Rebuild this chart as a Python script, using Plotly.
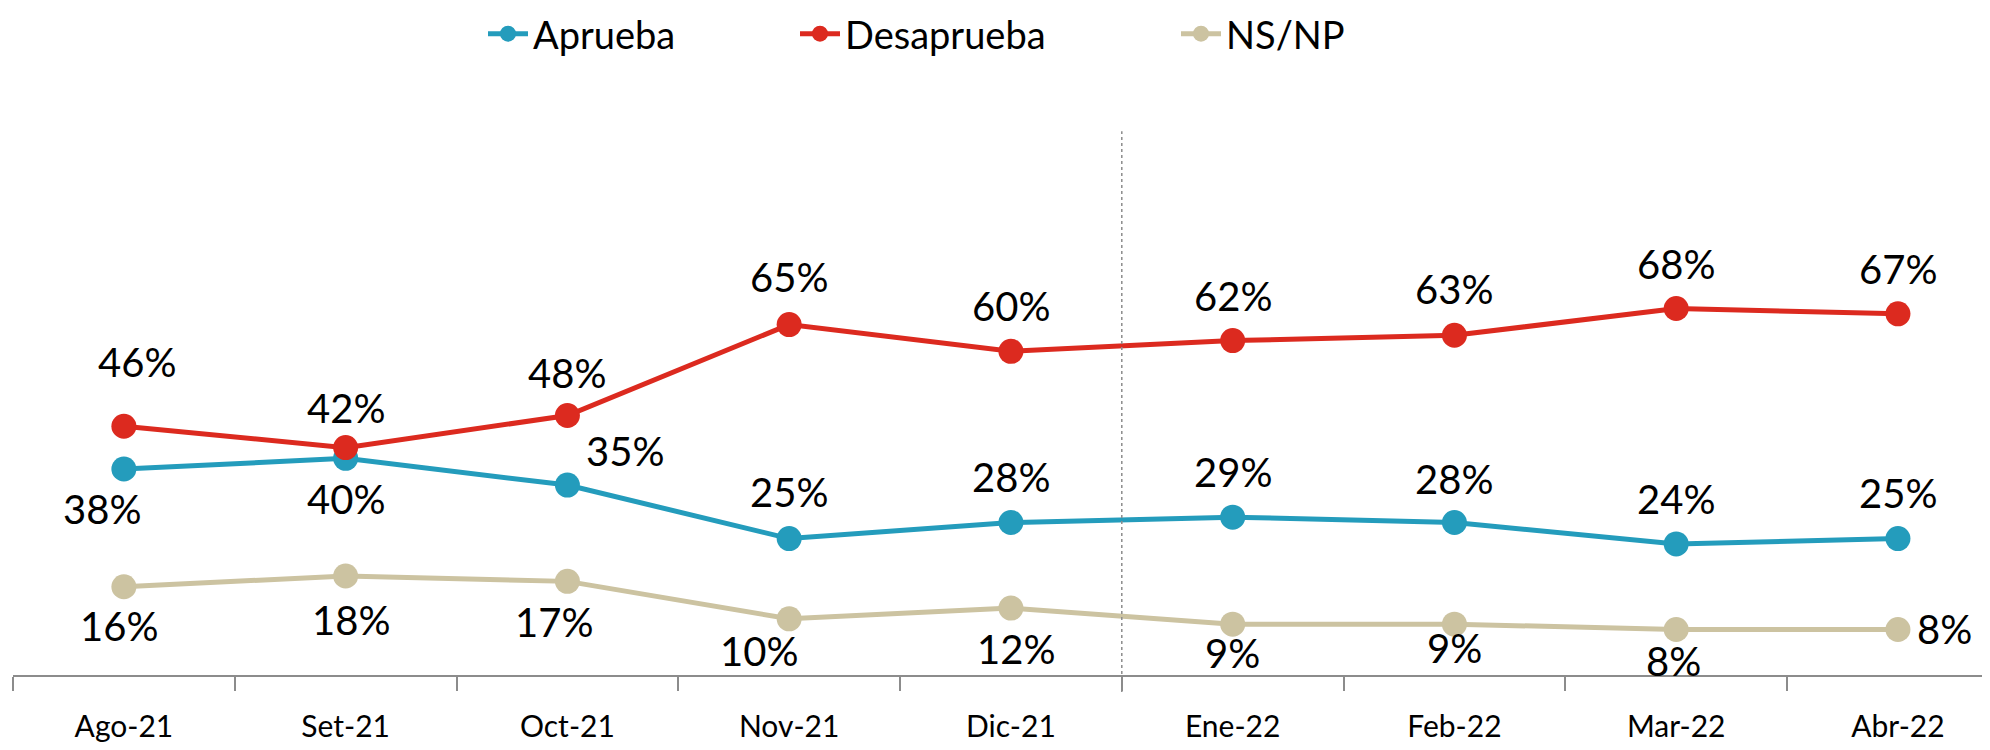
import plotly.graph_objects as go

categories = ["Ago-21", "Set-21", "Oct-21", "Nov-21", "Dic-21", "Ene-22", "Feb-22", "Mar-22", "Abr-22"]
aprueba = [38, 40, 35, 25, 28, 29, 28, 24, 25]
desaprueba = [46, 42, 48, 65, 60, 62, 63, 68, 67]
nsnp = [16, 18, 17, 10, 12, 9, 9, 8, 8]

series = [
    ("Aprueba", aprueba, "#249CBC", "legend", 475),
    ("Desaprueba", desaprueba, "#DC2A1F", "legend2", 787),
    ("NS/NP", nsnp, "#CCC3A1", "legend3", 1168),
]

# label offsets (xshift, yshift) in pixels, per series and point
offsets = {
    "Aprueba": [(-22, -40), (0, -41), (58, 34), (0, 47), (0, 46), (0, 45), (0, 44), (0, 45), (0, 46)],
    "Desaprueba": [(13, 64), (0, 40), (0, 43), (0, 48), (0, 45), (0, 45), (0, 46), (0, 45), (0, 45)],
    "NS/NP": [(-5, -39), (5, -44), (-13, -41), (-30, -32), (5, -41), (0, -29), (0, -24), (-3, -31), (47, 1)],
}

FONT = "Lato"
W, H = 1974, 734  # page body has an 8px margin

fig = go.Figure()
annotations = []
legends = {}
for name, vals, color, leg, lx in series:
    fig.add_trace(go.Scatter(
        x=categories, y=vals, name=name, mode="lines+markers",
        line=dict(color=color, width=5),
        marker=dict(color=color, size=25),
        hoverinfo="skip", legend=leg,
    ))
    legends[leg] = dict(
        orientation="h", x=lx / W, xanchor="left", xref="container",
        y=1 - 26 / H, yanchor="middle", yref="container",
        font=dict(family=FONT, size=38, color="#000000"),
        bgcolor="rgba(0,0,0,0)", itemwidth=40,
    )
    for i, (c, v) in enumerate(zip(categories, vals)):
        dx, dy = offsets[name][i]
        annotations.append(dict(
            x=c, y=v, text=f"{v}%", showarrow=False, xshift=dx, yshift=dy,
            font=dict(family=FONT, size=40, color="#000000"),
        ))

fig.update_layout(
    width=W, height=H,
    margin=dict(l=5, r=0, t=132, b=67, autoexpand=False),
    plot_bgcolor="white", paper_bgcolor="white",
    font=dict(family=FONT, color="#000000"),
    showlegend=True,
    legend=legends["legend"], legend2=legends["legend2"], legend3=legends["legend3"],
    annotations=annotations,
    xaxis=dict(
        type="category", range=[-0.5, 8.379], showgrid=False, zeroline=False,
        showline=True, linecolor="#8C8C8C", linewidth=2, automargin=False,
        ticks="outside", tickson="boundaries", ticklen=14, tickcolor="#8C8C8C", tickwidth=2,
        tickfont=dict(family=FONT, size=30, color="#000000"),
        ticklabelstandoff=24,
    ),
    yaxis=dict(range=[-0.5, 99.5], visible=False, showgrid=False, zeroline=False, automargin=False),
    shapes=[dict(
        type="line", xref="x", yref="paper", x0=4.5, x1=4.5, y0=-0.032, y1=1.0165,
        line=dict(color="#8C8C8C", width=1.5, dash="dot"),
    )],
)

fig.write_html("out.html")
